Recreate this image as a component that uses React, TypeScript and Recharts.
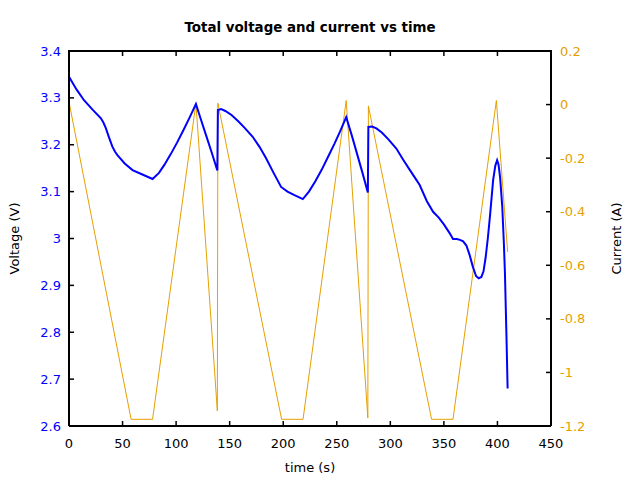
import React from 'react';
import { ComposedChart, Line, XAxis, YAxis, Label } from 'recharts';

// Voltage series (time in s, voltage in V)
const voltageTime = [
  0, 7, 14, 22, 29.6, 32, 34.3, 37, 40.5, 43, 45.2, 52, 59.3, 68, 78,
  84, 89, 95, 101, 107, 113, 118.5, 123, 128, 133, 138.5,
  139, 142, 146, 152, 158, 164, 171.5, 178, 184, 191, 198, 204, 210, 218.3,
  224, 230, 236, 242, 248, 253, 258.8, 264, 269, 274, 279,
  279.5, 283, 287, 292, 298, 305.6, 312, 318, 324.3, 327.4, 334, 339.9,
  345, 350, 355.5, 358.5, 362, 365, 368, 371, 374, 377, 380, 382.5,
  385, 387, 389, 391, 393, 396, 398, 399.7, 401, 402.5, 404.5, 406, 407, 408.5, 409.5,
];
const voltageValues = [
  3.345, 3.318, 3.295, 3.275, 3.257, 3.248, 3.236, 3.218, 3.196, 3.185, 3.178, 3.16, 3.146, 3.137, 3.127,
  3.14, 3.157, 3.18, 3.205, 3.232, 3.26, 3.287, 3.255, 3.22, 3.185, 3.145,
  3.274, 3.276, 3.272, 3.263, 3.25, 3.236, 3.217, 3.195, 3.171, 3.14, 3.11, 3.1, 3.093, 3.084,
  3.1, 3.122, 3.147, 3.175, 3.203, 3.228, 3.259, 3.22, 3.18, 3.14, 3.098,
  3.238, 3.239, 3.235, 3.226, 3.212, 3.192, 3.168, 3.147, 3.125, 3.114, 3.08, 3.057,
  3.045, 3.03, 3.011, 2.999, 2.999, 2.997, 2.994, 2.985, 2.965, 2.94, 2.92, 2.915,
  2.918, 2.93, 2.96, 3.0, 3.047, 3.125, 3.155, 3.167, 3.158, 3.13, 3.068, 2.99, 2.926, 2.784, 2.68,
];

// Current series (time in s, current in A)
const currentTime = [
  0, 58, 78, 118.5, 138.5, 139, 198.5, 218.5, 258.8, 279, 279.5, 338.5, 358.5, 399, 409.5,
];
const currentValues = [
  0.01, -1.175, -1.175, 0.005, -1.144, 0.005, -1.175, -1.175, 0.015, -1.17, -0.005, -1.175, -1.175, 0.015, -0.55,
];

const timeTicks = [0, 50, 100, 150, 200, 250, 300, 350, 400, 450];
const voltageTicks = [2.6, 2.7, 2.8, 2.9, 3.0, 3.1, 3.2, 3.3, 3.4];
const currentTicks = [-1.2, -1.0, -0.8, -0.6, -0.4, -0.2, 0, 0.2];

const voltageData = voltageTime.map((t, i) => ({ t, v: voltageValues[i] }));
const currentData = currentTime.map((t, i) => ({ t, c: currentValues[i] }));

const X_DOMAIN: [number, number] = [0, 450];
const V_DOMAIN: [number, number] = [2.6, 3.4];
const C_DOMAIN: [number, number] = [-1.2, 0.2];

const FONT = '"DejaVu Sans", sans-serif';
const BLUE = '#0000ff';
const ORANGE = '#e69f00';
const FS = 13;
const fmt = (v: number) => String(Math.round(v * 10) / 10);

// plot box geometry
const MARGIN_TOP = 51;
const LEFT_W = 69;
const RIGHT_W = 89;
const BOTTOM_H = 54;
const CHART_W = 640;
const CHART_H = 480;
const PLOT_W = CHART_W - LEFT_W - RIGHT_W;
const PLOT_H = CHART_H - MARGIN_TOP - BOTTOM_H;
const PLOT_R = LEFT_W + PLOT_W;
const PLOT_B = MARGIN_TOP + PLOT_H;
const TICK_PX = 5;

const px = (t: number) => LEFT_W + ((t - X_DOMAIN[0]) / (X_DOMAIN[1] - X_DOMAIN[0])) * PLOT_W;
const pyV = (v: number) => PLOT_B - ((v - V_DOMAIN[0]) / (V_DOMAIN[1] - V_DOMAIN[0])) * PLOT_H;
const pyC = (c: number) => PLOT_B - ((c - C_DOMAIN[0]) / (C_DOMAIN[1] - C_DOMAIN[0])) * PLOT_H;

const axisLine = { stroke: '#000', strokeWidth: 2 };

function Frame() {
  return (
    <svg
      width={CHART_W}
      height={CHART_H}
      style={{ position: 'absolute', left: 0, top: 0, pointerEvents: 'none' }}
    >
      <line x1={LEFT_W - 1} x2={PLOT_R + 1} y1={MARGIN_TOP} y2={MARGIN_TOP} stroke="#000" strokeWidth={2} />
      {timeTicks.map((t) => (
        <g key={'t' + t}>
          <line x1={px(t)} x2={px(t)} y1={MARGIN_TOP} y2={MARGIN_TOP + TICK_PX} stroke="#000" strokeWidth={1.5} />
          <line x1={px(t)} x2={px(t)} y1={PLOT_B} y2={PLOT_B - TICK_PX} stroke="#000" strokeWidth={1.5} />
        </g>
      ))}
      {voltageTicks.map((v) => (
        <line key={'v' + v} x1={LEFT_W} x2={LEFT_W + TICK_PX} y1={pyV(v)} y2={pyV(v)} stroke="#000" strokeWidth={1.5} />
      ))}
      {currentTicks.map((c) => (
        <line key={'c' + c} x1={PLOT_R} x2={PLOT_R - TICK_PX} y1={pyC(c)} y2={pyC(c)} stroke="#000" strokeWidth={1.5} />
      ))}
    </svg>
  );
}

export default function App() {
  return (
    <div style={{ position: 'absolute', left: 0, top: 0, width: CHART_W, height: CHART_H, background: '#fff' }}>
      <ComposedChart width={CHART_W} height={CHART_H} margin={{ top: MARGIN_TOP, right: 0, bottom: 0, left: 0 }}>
        <text
          x={310}
          y={31.5}
          textAnchor="middle"
          fontFamily={FONT}
          fontSize={13.4}
          fontWeight="bold"
          fill="#000"
        >
          Total voltage and current vs time
        </text>
        <XAxis
          xAxisId="bottom"
          type="number"
          dataKey="t"
          domain={X_DOMAIN}
          ticks={timeTicks}
          height={BOTTOM_H}
          tickSize={0}
          tickMargin={13}
          axisLine={axisLine}
          tickLine={false}
          tick={{ fill: '#000', fontSize: FS, fontFamily: FONT }}
          interval={0}
        >
          <Label
            content={(p: any) => {
              const vb = p.viewBox || {};
              return (
                <text
                  x={vb.x + vb.width / 2}
                  y={vb.y + 46}
                  textAnchor="middle"
                  fontFamily={FONT}
                  fontSize={FS}
                  fill="#000"
                >
                  time (s)
                </text>
              );
            }}
          />
        </XAxis>
        <YAxis
          yAxisId="v"
          orientation="left"
          type="number"
          domain={V_DOMAIN}
          ticks={voltageTicks}
          width={LEFT_W}
          tickSize={0}
          tickMargin={8}
          axisLine={axisLine}
          tickLine={false}
          tick={{ fill: BLUE, fontSize: FS, fontFamily: FONT }}
          tickFormatter={fmt}
          interval={0}
        >
          <Label
            content={(p: any) => {
              const vb = p.viewBox || {};
              const x = vb.x + 18.5;
              const y = vb.y + vb.height / 2;
              return (
                <text
                  x={x}
                  y={y}
                  transform={`rotate(-90 ${x} ${y})`}
                  textAnchor="middle"
                  fontFamily={FONT}
                  fontSize={FS}
                  fill="#000"
                >
                  Voltage (V)
                </text>
              );
            }}
          />
        </YAxis>
        <YAxis
          yAxisId="c"
          orientation="right"
          type="number"
          domain={C_DOMAIN}
          ticks={currentTicks}
          width={RIGHT_W}
          tickSize={0}
          tickMargin={9}
          axisLine={axisLine}
          tickLine={false}
          tick={{ fill: ORANGE, fontSize: FS, fontFamily: FONT }}
          tickFormatter={fmt}
          interval={0}
        >
          <Label
            content={(p: any) => {
              const vb = p.viewBox || {};
              const x = vb.x + 70;
              const y = vb.y + vb.height / 2;
              return (
                <text
                  x={x}
                  y={y}
                  transform={`rotate(-90 ${x} ${y})`}
                  textAnchor="middle"
                  fontFamily={FONT}
                  fontSize={FS}
                  fill="#000"
                >
                  Current (A)
                </text>
              );
            }}
          />
        </YAxis>
        <Line
          data={currentData}
          xAxisId="bottom"
          yAxisId="c"
          dataKey="c"
          type="linear"
          stroke={ORANGE}
          strokeWidth={1}
          dot={false}
          activeDot={false}
          isAnimationActive={false}
        />
        <Line
          data={voltageData}
          xAxisId="bottom"
          yAxisId="v"
          dataKey="v"
          type="linear"
          stroke={BLUE}
          strokeWidth={2}
          dot={false}
          activeDot={false}
          isAnimationActive={false}
        />
      </ComposedChart>
      <Frame />
    </div>
  );
}
